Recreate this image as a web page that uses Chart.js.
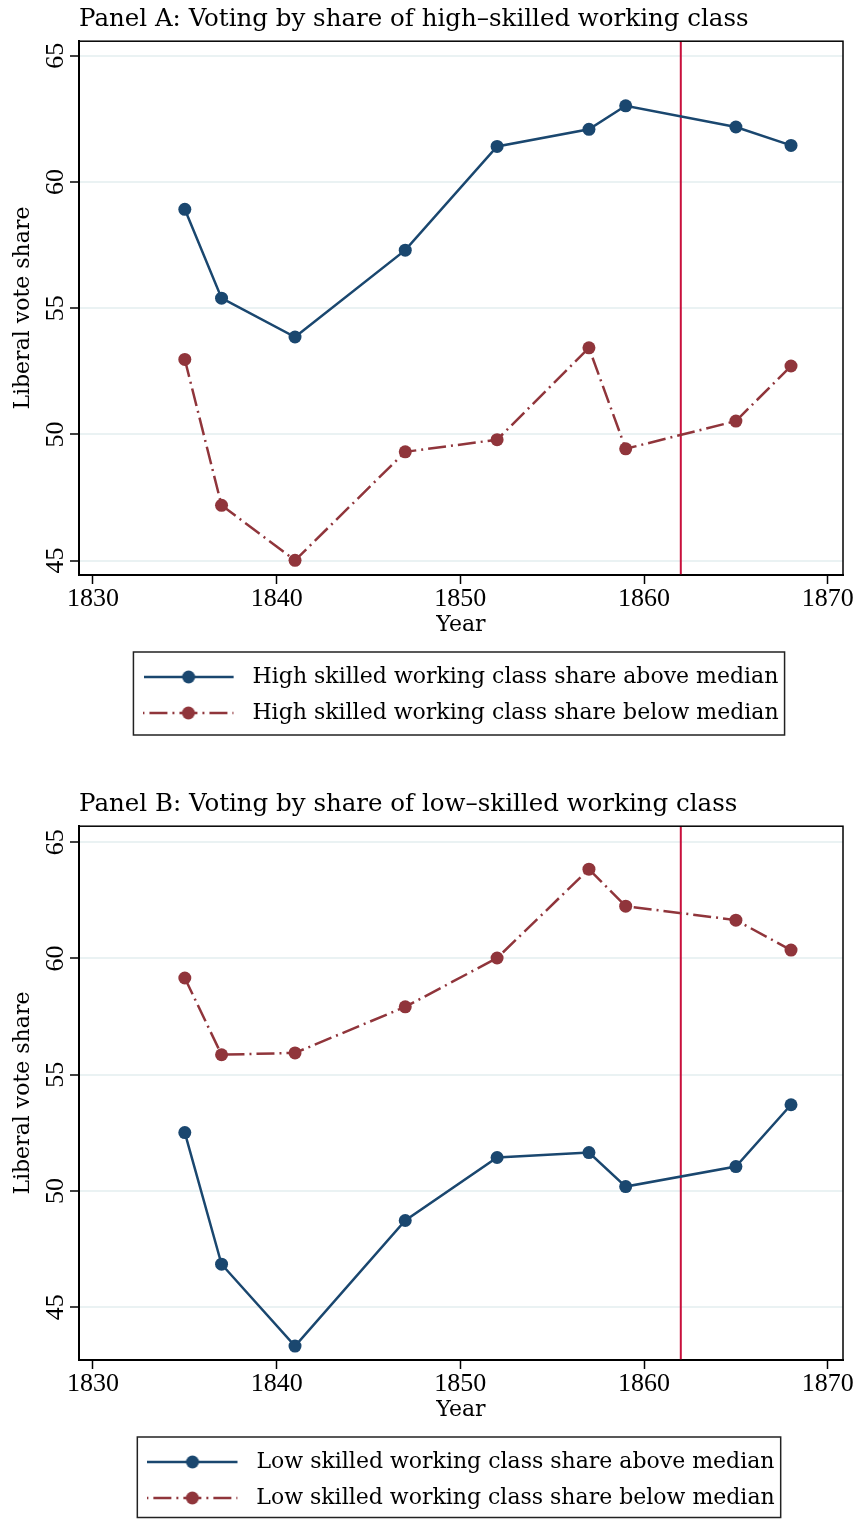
<!DOCTYPE html>
<html>
<head>
<meta charset="utf-8">
<title>Liberal vote share by working class composition</title>
<script src="https://cdn.jsdelivr.net/npm/chart.js@4.4.1/dist/chart.umd.min.js"></script>
<style>
  html, body { margin: 0; padding: 0; background: #fff; }
  .panel { position: relative; width: 857px; }
  #panelA { height: 760px; }
  #panelB { height: 759px; }
</style>
</head>
<body>
<div class="panel" id="panelA"><canvas id="chartA"></canvas></div>
<div class="panel" id="panelB"><canvas id="chartB"></canvas></div>
<script>
const years = [1835, 1837, 1841, 1847, 1852, 1857, 1859, 1865, 1868];
const xTicks = [1830, 1840, 1850, 1860, 1870];
const yTicks = [45, 50, 55, 60, 65];
const reformYear = 1862;

// Panel A: split by share of high-skilled working class
const highAbove = [58.92, 55.40, 53.86, 57.30, 61.41, 62.09, 63.02, 62.18, 61.45];
const highBelow = [52.97, 47.19, 45.01, 49.31, 49.79, 53.43, 49.43, 50.53, 52.71];

// Panel B: split by share of low-skilled working class
const lowAbove = [52.51, 46.85, 43.33, 48.73, 51.44, 51.65, 50.19, 51.05, 53.71];
const lowBelow = [59.16, 55.86, 55.94, 57.92, 60.02, 63.84, 62.25, 61.65, 60.36];

const navy = '#1a476f';
const maroon = '#90353b';
const lineRed = '#c8103c';
const gridColor = '#eaf2f3';
const dashDot = [18, 5, 2, 5];
const serif = "'Liberation Serif', 'Times New Roman', serif";
const wideSerif = "'DejaVu Serif', 'Liberation Serif', serif";

Chart.defaults.font.family = serif;
Chart.defaults.color = '#000';

// small line + marker picture used as legend symbol
function legendSymbol(color, dash) {
    const c = document.createElement('canvas');
    c.width = 98;
    c.height = 16;
    const g = c.getContext('2d');
    g.strokeStyle = color;
    g.lineWidth = 2.5;
    g.setLineDash(dash);
    g.lineDashOffset = 24;
    g.beginPath();
    g.moveTo(0, 8);
    g.lineTo(90, 8);
    g.stroke();
    g.fillStyle = color;
    g.beginPath();
    g.arc(45, 8, 6.5, 0, Math.PI * 2);
    g.fill();
    return c;
}

const symbols = [legendSymbol(navy, []), legendSymbol(maroon, dashDot)];

// reform line, plot frame and legend frame
const panelDecor = {
    id: 'panelDecor',
    beforeDatasetsDraw(chart) {
        const {ctx, chartArea: a, scales: {x}} = chart;
        const px = x.getPixelForValue(reformYear);
        ctx.save();
        ctx.strokeStyle = lineRed;
        ctx.lineWidth = 2;
        ctx.beginPath();
        ctx.moveTo(px, a.top);
        ctx.lineTo(px, a.bottom);
        ctx.stroke();
        ctx.restore();
    },
    afterDraw(chart) {
        const {ctx, chartArea: a, legend} = chart;
        ctx.save();
        ctx.strokeStyle = '#000';
        ctx.lineWidth = 1.5;
        ctx.strokeRect(a.left, a.top, a.right - a.left, a.bottom - a.top);

        const hb = legend.legendHitBoxes;
        const l = Math.min(...hb.map(h => h.left)) - 10;
        const r = Math.max(...hb.map(h => h.left + h.width)) + 6;
        const t = hb[0].top - 14;
        const last = hb[hb.length - 1];
        const b = Math.min(last.top + last.height + 11, chart.height - 1.5);
        ctx.strokeStyle = '#222';
        ctx.strokeRect(l, t, r - l, b - t);
        ctx.restore();
    }
};

function makePanel(canvasId, titleText, names, above, below, yMin, yMax, pad) {
    const tickFont = {family: serif, size: 26, lineHeight: 1.2};
    const axisFont = {family: wideSerif, size: 22, lineHeight: 1.3};
    const series = (label, values, color, dash) => ({
        label: label,
        data: years.map((yr, i) => ({x: yr, y: values[i]})),
        borderColor: color,
        backgroundColor: color,
        borderWidth: 2.5,
        borderDash: dash,
        pointRadius: 6.5,
        pointBorderWidth: 0,
        pointBackgroundColor: color,
        tension: 0
    });
    return new Chart(document.getElementById(canvasId), {
        type: 'line',
        data: {
            datasets: [
                series(names[0], above, navy, []),
                series(names[1], below, maroon, dashDot)
            ]
        },
        options: {
            responsive: true,
            maintainAspectRatio: false,
            animation: false,
            layout: {padding: pad},
            plugins: {
                title: {
                    display: true,
                    text: titleText,
                    align: 'start',
                    fullSize: false,
                    color: '#000',
                    font: {family: wideSerif, size: 24.5, weight: 'normal', lineHeight: 1.2},
                    padding: {top: 5, bottom: 6.8}
                },
                legend: {
                    position: 'bottom',
                    fullSize: false,
                    labels: {
                        usePointStyle: true,
                        pointStyleWidth: 98,
                        padding: 14,
                        color: '#000',
                        font: {family: wideSerif, size: 22, lineHeight: 1.1},
                        generateLabels: chart => {
                            const items = Chart.defaults.plugins.legend.labels.generateLabels(chart);
                            items.forEach((it, i) => { it.pointStyle = symbols[i]; });
                            return items;
                        }
                    }
                },
                tooltip: {enabled: false}
            },
            scales: {
                x: {
                    type: 'linear',
                    min: 1829.24,
                    max: 1870.83,
                    afterBuildTicks: s => { s.ticks = xTicks.map(v => ({value: v})); },
                    afterFit: s => { s.height = 77; },
                    grid: {drawOnChartArea: false, tickLength: 9, tickColor: '#000', tickWidth: 1.5},
                    border: {color: '#000', width: 2},
                    ticks: {font: tickFont, color: '#000', padding: 0, maxRotation: 0, autoSkip: false,
                        callback: v => String(v)},
                    title: {display: true, text: 'Year', font: axisFont, color: '#000',
                        padding: {top: 0, bottom: 12}}
                },
                y: {
                    min: yMin,
                    max: yMax,
                    afterBuildTicks: s => { s.ticks = yTicks.map(v => ({value: v})); },
                    afterFit: s => { s.width = 79; },
                    grid: {color: gridColor, lineWidth: 2, tickLength: 9, tickColor: '#000', tickWidth: 1.5},
                    border: {color: '#000', width: 2},
                    ticks: {font: tickFont, color: '#000', padding: 1, minRotation: 90, maxRotation: 90,
                        crossAlign: 'center', autoSkip: false, callback: v => String(v)},
                    title: {display: true, text: 'Liberal vote share', font: axisFont, color: '#000',
                        padding: {top: 9, bottom: 0}}
                }
            }
        },
        plugins: [panelDecor]
    });
}

makePanel('chartA', 'Panel A: Voting by share of high\u2013skilled working class',
    ['High skilled working class share above median', 'High skilled working class share below median'],
    highAbove, highBelow, 44.43, 65.58, {top: 0, bottom: 26, left: 0, right: 14});

makePanel('chartB', 'Panel B: Voting by share of low\u2013skilled working class',
    ['Low skilled working class share above median', 'Low skilled working class share below median'],
    lowAbove, lowBelow, 42.73, 65.69, {top: 25, bottom: 0, left: 0, right: 14});
</script>
</body>
</html>
